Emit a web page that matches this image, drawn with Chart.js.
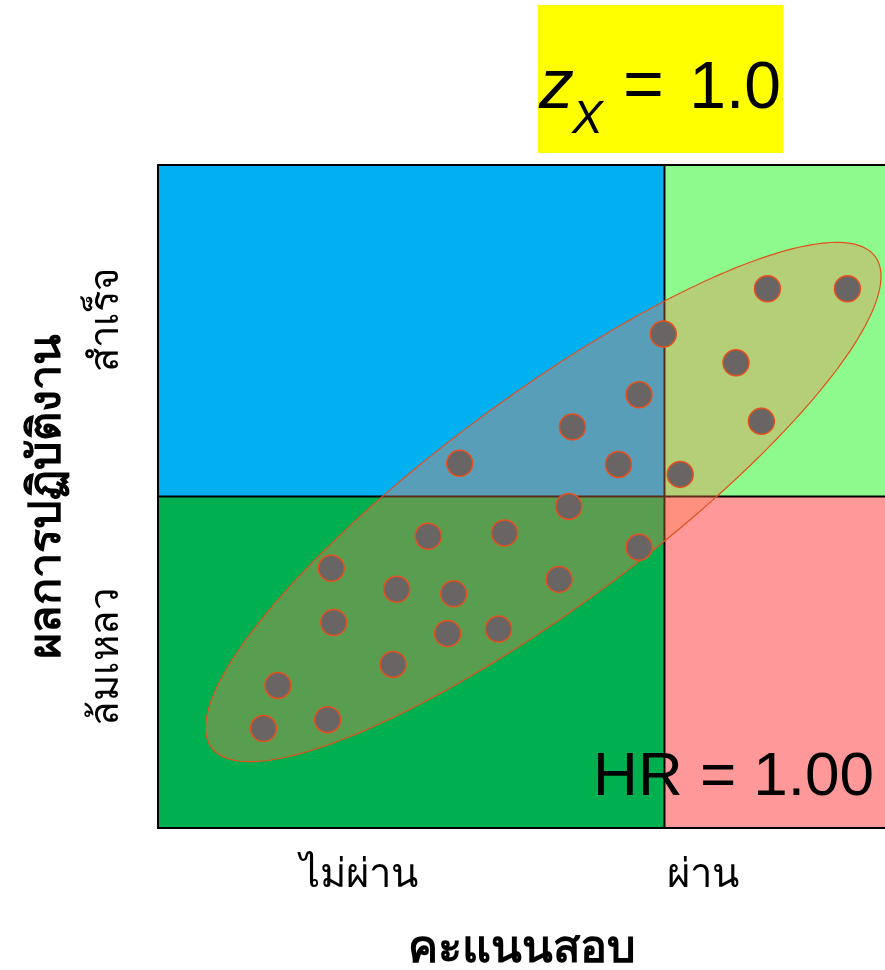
<!DOCTYPE html>
<html>
<head>
<meta charset="utf-8">
<script src="https://cdn.jsdelivr.net/npm/chart.js@4/dist/chart.umd.min.js"></script>
<style>
  body { margin: 0; background: #fff; overflow: hidden; }
</style>
</head>
<body>
<canvas id="hrChart" width="885" height="970"></canvas>
<script>
// คะแนนสอบ (z) และผลการปฏิบัติงาน (z) ของผู้สมัคร
var scoreX = [2.03, 2.69, 1.17, 1.77, 0.97, 1.98, 0.42, -0.51, 0.80, 1.31, 0.39, -0.77, -0.14,
              0.97, -1.57, -1.03, -0.56, 0.31, -1.55, -0.61, -0.19, -1.06, -2.01, -1.60, -2.13];
var perfY  = [1.88, 1.88, 1.47, 1.21, 0.92, 0.68, 0.63, 0.30, 0.29, 0.20, -0.09, -0.36, -0.33,
              -0.46, -0.65, -0.84, -0.88, -0.75, -1.14, -1.24, -1.20, -1.52, -1.71, -2.02, -2.10];

var xRange = [-3, 3];
var yRange = [-3, 3];
var xCut = 1.18;   // เกณฑ์ผ่าน
var yCut = 0;

var xTickValues = [-1.34, 1.5];
var xTickLabels = ['ไม่ผ่าน', 'ผ่าน'];
var yTickValues = [-1.45, 1.6];
var yTickLabels = ['ล้มเหลว', 'สำเร็จ'];

// วงรีการกระจาย (จุดศูนย์กลาง + แกนคอนจูเกต)
var ellipseCenter = [0.18, -0.05];
var ellipseU = [2.74, 2.22];
var ellipseV = [0.51, -0.77];

var zLabel = '1.0';
var hrLabel = '1.00';

var thaiFont = "'Noto Sans', 'DejaVu Sans', sans-serif";

var points = scoreX.map(function (v, i) { return { x: v, y: perfY[i] }; });

var quadrantPlugin = {
    id: 'quadrants',
    beforeDatasetsDraw: function (chart) {
        var c = chart.ctx;
        var xs = chart.scales.x, ys = chart.scales.y;
        var x0 = xs.getPixelForValue(xRange[0]);
        var x1 = xs.getPixelForValue(xCut);
        var x2 = xs.getPixelForValue(xRange[1]);
        var y0 = ys.getPixelForValue(yRange[1]);
        var y1 = ys.getPixelForValue(yCut);
        var y2 = ys.getPixelForValue(yRange[0]);
        c.save();
        c.fillStyle = '#00B0F0'; c.fillRect(x0, y0, x1 - x0, y1 - y0);
        c.fillStyle = '#8EFA8E'; c.fillRect(x1, y0, x2 - x1, y1 - y0);
        c.fillStyle = '#00B050'; c.fillRect(x0, y1, x1 - x0, y2 - y1);
        c.fillStyle = '#FF9999'; c.fillRect(x1, y1, x2 - x1, y2 - y1);

        c.strokeStyle = '#000';
        c.lineWidth = 2;
        c.beginPath();
        c.moveTo(x2 + 5, y0); c.lineTo(x0, y0); c.lineTo(x0, y2); c.lineTo(x2 + 5, y2);
        c.moveTo(x1, y0); c.lineTo(x1, y2);
        c.moveTo(x0, y1); c.lineTo(x2, y1);
        c.stroke();

        // วงรี
        c.beginPath();
        for (var i = 0; i <= 240; i++) {
            var t = i / 240 * 2 * Math.PI;
            var ex = ellipseCenter[0] + ellipseU[0] * Math.cos(t) + ellipseV[0] * Math.sin(t);
            var ey = ellipseCenter[1] + ellipseU[1] * Math.cos(t) + ellipseV[1] * Math.sin(t);
            var px = xs.getPixelForValue(ex), py = ys.getPixelForValue(ey);
            if (i === 0) c.moveTo(px, py); else c.lineTo(px, py);
        }
        c.closePath();
        c.fillStyle = 'rgba(255,127,80,0.35)';
        c.fill();
        c.strokeStyle = 'rgb(225,80,30)';
        c.lineWidth = 1.2;
        c.stroke();
        c.restore();
    },
    afterDraw: function (chart) {
        var c = chart.ctx;
        var ys = chart.scales.y;
        c.save();
        // ป้ายแกน y (หมุน)
        c.fillStyle = '#000';
        c.font = '40px ' + thaiFont;
        c.textAlign = 'center';
        c.textBaseline = 'middle';
        yTickValues.forEach(function (v, i) {
            c.save();
            c.translate(107, ys.getPixelForValue(v));
            c.rotate(-Math.PI / 2);
            c.fillText(yTickLabels[i], 0, 0);
            c.restore();
        });

        // กล่อง z_X
        c.fillStyle = '#FFFF00';
        c.fillRect(538, 5, 245, 148);
        c.fillStyle = '#000';
        c.textBaseline = 'alphabetic';
        c.textAlign = 'left';
        c.font = 'italic 70px "Liberation Sans"';
        c.fillText('z', 539, 108);
        c.font = 'italic 46px "Liberation Sans"';
        c.fillText('X', 572, 133);
        c.font = '70px "Liberation Sans"';
        c.fillText('=', 623, 108);
        c.textAlign = 'right';
        c.font = '66px "Liberation Sans"';
        c.fillText(zLabel, 781, 108);

        // HR
        c.font = '62px "Liberation Sans"';
        c.fillText('HR = ' + hrLabel, 874, 795);
        c.restore();
    }
};

var ctx = document.getElementById('hrChart').getContext('2d');
var myChart = new Chart(ctx, {
    type: 'scatter',
    data: {
        datasets: [{
            data: points,
            backgroundColor: '#696565',
            borderColor: 'rgb(230,80,30)',
            borderWidth: 1.5,
            pointRadius: 13,
            pointHoverRadius: 13
        }]
    },
    options: {
        responsive: false,
        animation: false,
        layout: { autoPadding: false, padding: { top: 165, right: 0, left: 0, bottom: 0 } },
        plugins: {
            legend: { display: false },
            tooltip: { enabled: false }
        },
        scales: {
            x: {
                type: 'linear',
                min: xRange[0],
                max: xRange[1],
                grid: { display: false, drawTicks: false },
                border: { display: false },
                afterBuildTicks: function (axis) {
                    axis.ticks = xTickValues.map(function (v) { return { value: v }; });
                },
                afterFit: function (axis) {
                    axis.height = 142;
                    axis.paddingLeft = 0;
                    axis.paddingRight = 0;
                },
                ticks: {
                    color: '#000',
                    padding: 24,
                    font: { size: 40, family: thaiFont },
                    callback: function (v) { return xTickLabels[xTickValues.indexOf(v)]; }
                },
                title: {
                    display: true,
                    text: 'คะแนนสอบ',
                    color: '#000',
                    font: { size: 45, weight: 'bold', family: thaiFont, lineHeight: 1 },
                    padding: { top: 0, bottom: -2 }
                }
            },
            y: {
                type: 'linear',
                min: yRange[0],
                max: yRange[1],
                grid: { display: false, drawTicks: false },
                border: { display: false },
                afterBuildTicks: function (axis) {
                    axis.ticks = yTickValues.map(function (v) { return { value: v }; });
                },
                afterFit: function (axis) {
                    axis.width = 158;
                    axis.paddingTop = 0;
                    axis.paddingBottom = 0;
                },
                ticks: { display: false },
                title: {
                    display: true,
                    text: 'ผลการปฏิบัติงาน',
                    color: '#000',
                    font: { size: 45, weight: 'bold', family: thaiFont, lineHeight: 1 },
                    padding: { top: 25, bottom: 0 }
                }
            }
        }
    },
    plugins: [quadrantPlugin]
});
</script>
</body>
</html>
